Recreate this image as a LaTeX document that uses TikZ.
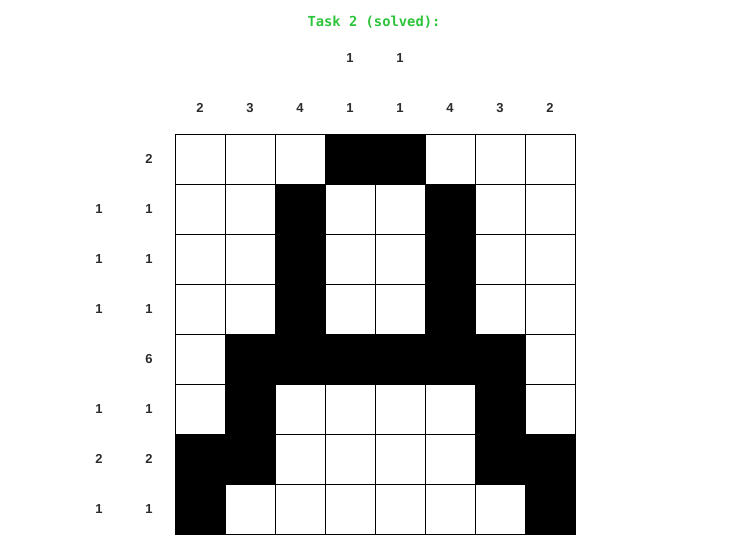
\documentclass[tikz,border=0pt]{standalone}
\usepackage{fontspec}
\setmainfont{Liberation Sans}
\newfontfamily\titlefont{DejaVu Sans Mono}
\definecolor{ttl}{HTML}{2CC43A}
\definecolor{clue}{HTML}{2B2B2B}
\begin{document}
\begin{tikzpicture}[x=1pt,y=-1pt,
  cell/.style={draw=black,line width=1pt,minimum size=50pt,inner sep=0pt,anchor=north west,fill=white},
  blk/.style={cell,fill=black},
  cluetxt/.style={text=clue,font=\bfseries\fontsize{13}{15}\selectfont,inner sep=0pt}]
\useasboundingbox (0,0) rectangle (732,548);
\node[text=ttl,font=\titlefont\bfseries\fontsize{13.8}{15}\selectfont] (title) at (374,22) {Task 2 (solved):};
\foreach \r/\row in {0/{0,0,0,1,1,0,0,0},1/{0,0,1,0,0,1,0,0},2/{0,0,1,0,0,1,0,0},3/{0,0,1,0,0,1,0,0},4/{0,1,1,1,1,1,1,0},5/{0,1,0,0,0,0,1,0},6/{1,1,0,0,0,0,1,1},7/{1,0,0,0,0,0,0,1}}{
  \foreach \v [count=\c from 0] in \row {
    \ifnum\v=1
      \node[blk] (c\r-\c) at ({175+50*\c},{134+50*\r}) {};
    \else
      \node[cell] (c\r-\c) at ({175+50*\c},{134+50*\r}) {};
    \fi
  }
}
\foreach \n [count=\c from 0] in {2,3,4,1,1,4,3,2}
  \node[cluetxt] (cb\c) at ({200+50*\c},108) {\n};
\node[cluetxt] (ct3) at (350,58) {1};
\node[cluetxt] (ct4) at (400,58) {1};
\foreach \n [count=\r from 0] in {2,1,1,1,6,1,2,1}
  \node[cluetxt] (rb\r) at (149,{159+50*\r}) {\n};
\foreach \r/\n in {1/1,2/1,3/1,5/1,6/2,7/1}
  \node[cluetxt] (ra\r) at (99,{159+50*\r}) {\n};
\end{tikzpicture}
\end{document}
